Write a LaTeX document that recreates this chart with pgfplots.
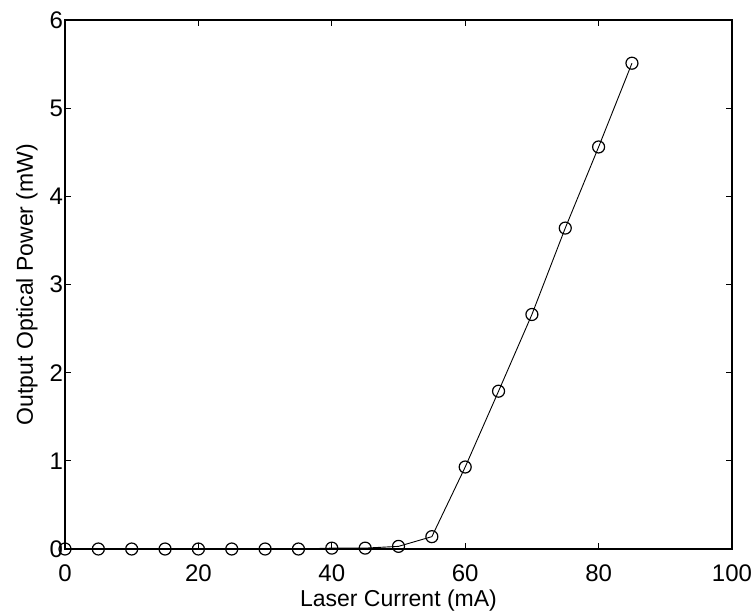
\documentclass[border=0pt]{standalone}
\usepackage{fontspec}
\setmainfont{Liberation Sans}
\usepackage{pgfplots}
\pgfplotsset{compat=1.18}
\begin{document}
\begin{tikzpicture}
\useasboundingbox (-65pt,-65pt) rectangle (686pt,549pt);
\begin{axis}[
  at={(0pt,0pt)}, anchor=south west,
  scale only axis, width=667pt, height=529pt,
  xmin=0, xmax=100, ymin=0, ymax=6,
  xtick={0,20,...,100}, ytick={0,1,...,6},
  tick align=inside, major tick length=6pt,
  axis line style={line width=1.3pt},
  every tick/.style={line width=1pt, black},
  /pgf/number format/assume math mode=true,
  tick label style={font=\fontsize{24}{26}\selectfont},
  label style={font=\fontsize{23}{25}\selectfont},
  xlabel={Laser Current (mA)},
  ylabel={Output Optical Power (mW)},
  xlabel style={at={(axis description cs:0.5,0)}, anchor=center, yshift=-52pt},
  ylabel style={at={(axis description cs:0,0.5)}, anchor=center, yshift=38pt},
  xticklabel style={yshift=-12pt},
  yticklabel style={xshift=1.5pt},
  clip=false,
]
\addplot[black, line width=0.9pt, mark=o, mark size=6pt, mark options={line width=1.2pt}] coordinates {
(0,0) (5,0) (10,0) (15,0) (20,0) (25,0) (30,0) (35,0) (40,0.01) (45,0.01) (50,0.03) (55,0.14) (60,0.93) (65,1.79) (70,2.66) (75,3.64) (80,4.56) (85,5.51)
};
\end{axis}
\end{tikzpicture}
\end{document}
